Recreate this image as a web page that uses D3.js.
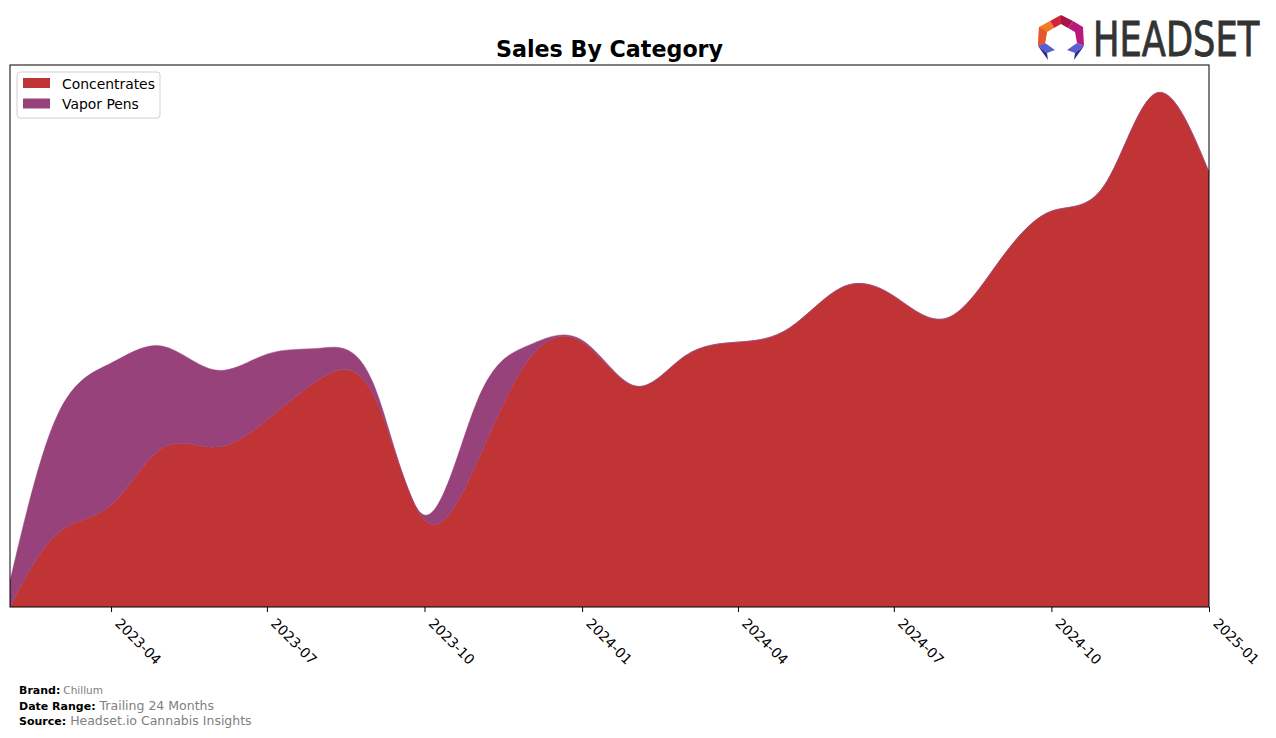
<!DOCTYPE html>
<html>
<head>
<meta charset="utf-8">
<script src="https://cdn.jsdelivr.net/npm/d3@7/dist/d3.min.js"></script>
<style>
  html, body { margin: 0; padding: 0; background: #fff; }
  svg { display: block; font-family: "DejaVu Sans", sans-serif; }
</style>
</head>
<body>
<svg id="chart" width="1276" height="738"></svg>
<script>
// ---- Data (monthly sales) ----
const months = ["2023-02","2023-03","2023-04","2023-05","2023-06","2023-07","2023-08","2023-09",
  "2023-10","2023-11","2023-12","2024-01","2024-02","2024-03","2024-04","2024-05","2024-06",
  "2024-07","2024-08","2024-09","2024-10","2024-11","2024-12","2025-01"];
const concentrates = [0, 7400, 10200, 15900, 16000, 18700, 22800, 21300, 8700, 14600, 24800, 26500,
  22100, 25100, 26500, 27900, 32000, 31100, 28900, 34700, 39600, 42200, 51400, 43500];
const vaporPens = [2600, 11900, 14200, 10200, 7700, 6600, 3100, 1100, 500, 6100, 1400, 200,
  0, 0, 0, 0, 0, 0, 0, 0, 0, 0, 0, 0];
const seriesNames = ["Concentrates", "Vapor Pens"];
const seriesColors = ["#c03435", "#97427a"];
const xTickLabels = ["2023-04","2023-07","2023-10","2024-01","2024-04","2024-07","2024-10","2025-01"];
const footer = [
  ["Brand:", "Chillum"],
  ["Date Range:", "Trailing 24 Months"],
  ["Source:", "Headset.io Cannabis Insights"]
];

// ---- Layout ----
const svg = d3.select("#chart");
const margin = { left: 10, top: 65, right: 1209, bottom: 607 };
const parse = d3.timeParse("%Y-%m");

const table = months.map((m, i) => ({
  date: parse(m),
  "Concentrates": concentrates[i],
  "Vapor Pens": vaporPens[i]
}));

const stack = d3.stack().keys(seriesNames);
const stacked = stack(table);

const x = d3.scaleTime()
  .domain(d3.extent(table, d => d.date))
  .range([margin.left, margin.right]);
const yMax = d3.max(table, d => d["Concentrates"] + d["Vapor Pens"]) * 1.055;
const y = d3.scaleLinear().domain([0, yMax]).range([margin.bottom, margin.top]);

svg.append("defs").append("clipPath").attr("id", "plotclip")
  .append("rect").attr("x", margin.left).attr("y", margin.top)
  .attr("width", margin.right - margin.left).attr("height", margin.bottom - margin.top);

const area = d3.area()
  .x(d => x(d.data.date))
  .y0(d => y(d[0]))
  .y1(d => y(d[1]))
  .curve(d3.curveNatural);

svg.append("g").attr("clip-path", "url(#plotclip)")
  .selectAll("path").data(stacked).join("path")
  .attr("d", area)
  .attr("fill", (d, i) => seriesColors[i])
  .attr("stroke", (d, i) => seriesColors[i])
  .attr("stroke-width", 0.5);

// frame
svg.append("rect")
  .attr("x", margin.left).attr("y", margin.top)
  .attr("width", margin.right - margin.left).attr("height", margin.bottom - margin.top)
  .attr("fill", "none").attr("stroke", "#000").attr("stroke-width", 1);

// x axis
const xAxis = d3.axisBottom(x)
  .tickValues(xTickLabels.map(parse))
  .tickFormat(d3.timeFormat("%Y-%m"))
  .tickSize(5).tickSizeOuter(0);
const gx = svg.append("g").attr("transform", `translate(0,${margin.bottom})`).call(xAxis);
gx.select(".domain").remove();
gx.selectAll(".tick line").attr("stroke", "#000");
gx.selectAll(".tick text")
  .attr("font-size", "13.9px")
  .attr("font-family", "DejaVu Sans, sans-serif")
  .attr("fill", "#000")
  .attr("text-anchor", "start")
  .attr("dy", null)
  .attr("y", 0)
  .attr("transform", "translate(10,10) rotate(45)")
  .attr("dominant-baseline", "hanging");

// title
svg.append("text")
  .attr("x", (margin.left + margin.right) / 2).attr("y", 57)
  .attr("text-anchor", "middle")
  .attr("font-size", "22.2px").attr("font-weight", "bold")
  .text("Sales By Category");

// legend
const lg = svg.append("g").attr("transform", "translate(17,72)");
lg.append("rect").attr("width", 143).attr("height", 46).attr("rx", 3)
  .attr("fill", "#fff").attr("fill-opacity", 0.8)
  .attr("stroke", "#d0d0d0");
seriesNames.forEach((name, i) => {
  const row = lg.append("g").attr("transform", `translate(6,${6 + i * 20.5})`);
  row.append("rect").attr("width", 27).attr("height", 10).attr("fill", seriesColors[i]);
  row.append("text").attr("x", 39).attr("y", 10.5)
    .attr("font-size", "13.9px").attr("fill", "#000").text(name);
});

// footer
footer.forEach((f, i) => {
  const t = svg.append("text").attr("x", 19).attr("y", 694 + i * 15.5);
  t.append("tspan").attr("font-weight", "bold").attr("font-size", "11px").attr("fill", "#000").text(f[0]);
  t.append("tspan").attr("font-size", i === 0 ? "10.5px" : "12.5px").attr("fill", "#808080")
    .attr("dx", i === 0 ? 3 : 4).text(f[1]);
});

// logo
const logo = svg.append("g").attr("transform", "translate(1038,15)");
const polys = [
  { c: "#d0253a", p: "12,6 23,0 23,9 16,13" },
  { c: "#a8144a", p: "23,0 35,6 30,13 23,9" },
  { c: "#f07c24", p: "1,12 12,6 16,13 9,17 7,28 0,31" },
  { c: "#e8562d", p: "1,12 9,17 7,28 0,31" },
  { c: "#b8197a", p: "35,6 45,12 46,31 39,28 37,17 30,13" },
  { c: "#5a5fd0", p: "0,31 7,28 17,35 9,38" },
  { c: "#2a2f8f", p: "0,31 9,38 10,45" },
  { c: "#5a5fd0", p: "46,31 39,28 29,35 37,38" },
  { c: "#2a2f8f", p: "46,31 37,38 36,45" }
];
logo.selectAll("polygon").data(polys).join("polygon")
  .attr("points", d => d.p).attr("fill", d => d.c);
svg.append("g").attr("transform", "translate(1093,56) scale(0.98,1.18)")
  .append("text")
  .attr("x", 0).attr("y", 0)
  .attr("font-family", "Liberation Sans Narrow, DejaVu Sans Condensed, sans-serif")
  .attr("font-size", "40px").attr("fill", "#333")
  .attr("stroke", "#333").attr("stroke-width", 0.7)
  .text("HEADSET");
</script>
</body>
</html>
